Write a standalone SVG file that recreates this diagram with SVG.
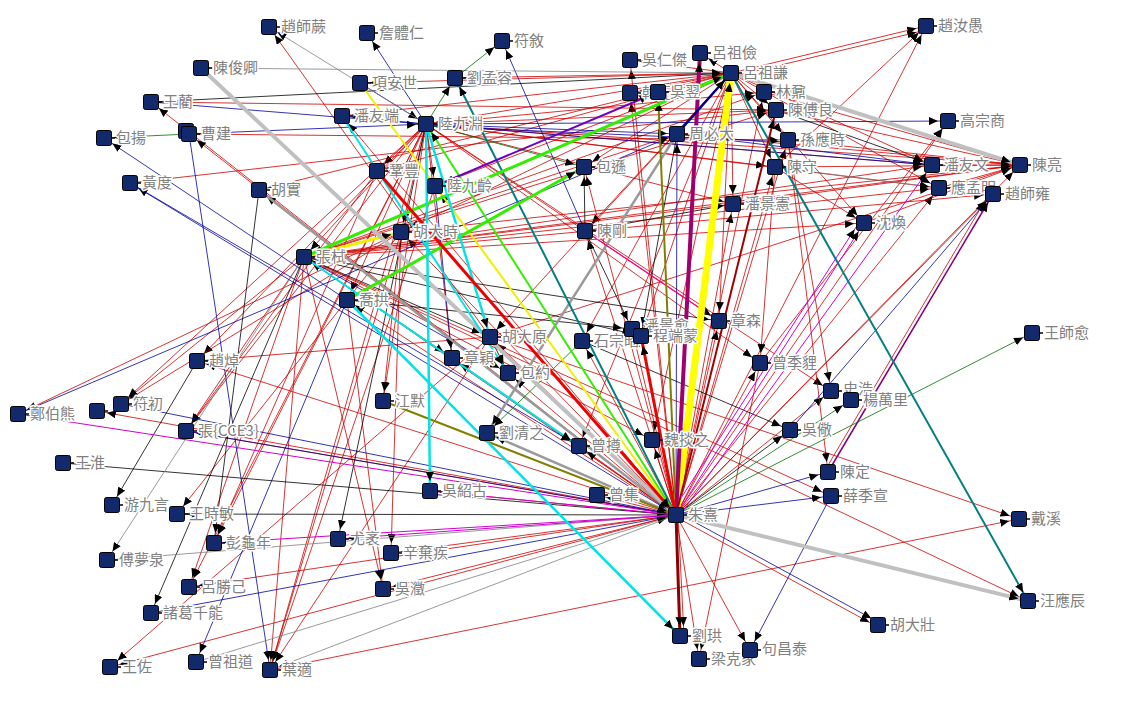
<svg xmlns="http://www.w3.org/2000/svg" width="1128" height="701" viewBox="0 0 1128 701">
<style>
.node rect{fill:#122a6b;stroke:#000;stroke-width:1}
.node path{stroke:#000;stroke-width:1.5;fill:none}
.node text{font-family:"Noto Sans CJK TC","Noto Sans CJK SC","Noto Sans CJK JP",sans-serif;font-size:15px;fill:#808080;stroke:#fff;stroke-width:3;stroke-linejoin:round;paint-order:stroke}
.b{stroke:#0000a0}
.k{stroke:#000}
.gy{stroke:#808080}
.gy2{stroke:#9a9a9a;stroke-width:2.5}
.gn{stroke:#007000}
.mg{stroke:#d000d0;stroke-width:1}
.cy{stroke:#00e4e4;stroke-width:2.5}
.yl{stroke:#ffff00;stroke-width:7}
.yt{stroke:#f0f000;stroke-width:2}
.lg{stroke:#c0c0c0;stroke-width:4}
.tl{stroke:#008080;stroke-width:2}
.lm{stroke:#33ee00;stroke-width:3}
.ol{stroke:#808000;stroke-width:2}
.pu{stroke:#7000c0;stroke-width:2}
.pp{stroke:#800080;stroke-width:1.5}
.rt{stroke:#ee0000;stroke-width:3}
.dr{stroke:#8b0000;stroke-width:3}
.dr2{stroke:#a00000;stroke-width:2}
.pk{stroke:#ff0080;stroke-width:1.2}
.nv{stroke:#000080;stroke-width:2.5}
.mp{stroke:#a0006e;stroke-width:4}
</style>
<defs>
<marker id="ar" markerUnits="userSpaceOnUse" markerWidth="10" markerHeight="8" refX="19" refY="4" orient="auto"><path d="M0,0L9,4L0,8z" fill="#000"/></marker>
</defs>
<rect width="1128" height="701" fill="#fff"/>
<g id="connectors" fill="none" stroke="#cc0000" stroke-width="0.8" marker-end="url(#ar)">
<path d="M676 515L151 102"/><path d="M676 515L189 134"/><path d="M676 515L259 190"/><path d="M676 515L342 116"/><path d="M676 515L435 186"/><path d="M676 515L401 232"/><path d="M676 515L630 60"/><path d="M676 515L630 93"/><path d="M676 515L764 92"/><path d="M676 515L788 140"/><path d="M676 515L584 167"/><path d="M676 515L775 167"/><path d="M676 515L733 204"/><path d="M676 515L585 231"/><path d="M676 515L926 26"/><path d="M676 515L948 121"/><path d="M676 515L1020 165"/><path d="M676 515L939 188"/><path d="M676 515L993 194"/><path d="M676 515L304 257"/><path d="M676 515L347 300"/><path d="M676 515L490 337"/><path d="M676 515L452 358"/><path d="M676 515L508 373"/><path d="M676 515L582 341"/><path d="M676 515L632 329"/><path d="M676 515L719 321"/><path d="M676 515L760 363"/><path d="M676 515L831 391"/><path d="M676 515L597 495"/><path d="M678 515L684 636"/><path d="M676 515L699 659"/><path d="M676 515L750 650"/><path d="M676 517L878 627"/><path d="M676 515L197 361"/><path d="M676 515L97 411"/><path d="M676 515L186 431"/><path d="M676 515L189 587"/><path d="M676 515L110 667"/><path d="M676 515L391 553"/><path d="M676 515L383 589"/><path d="M676 515L652 440"/><path d="M676 515L579 446"/><path d="M676 515L430 491"/>
<path d="M731 73L455 78"/><path d="M731 73L630 60"/><path d="M731 73L700 53"/><path d="M731 73L426 124"/><path d="M731 73L342 116"/><path d="M731 73L377 171"/><path d="M731 73L435 186"/><path d="M731 73L401 232"/><path d="M731 73L304 257"/><path d="M731 73L584 167"/><path d="M731 73L585 231"/><path d="M731 73L630 93"/><path d="M731 73L776 110"/><path d="M731 73L775 167"/><path d="M731 73L733 204"/><path d="M731 73L582 341"/><path d="M731 73L641 336"/><path d="M731 73L719 321"/><path d="M731 73L652 440"/><path d="M731 73L926 26"/><path d="M731 77L926 30"/><path d="M731 73L864 223"/><path d="M731 73L932 165"/><path d="M731 73L939 188"/><path d="M731 73L788 140"/><path d="M731 73L490 337"/><path d="M731 73L579 446"/><path d="M731 73L360 83"/><path d="M731 73L259 190"/>
<path d="M426 124L377 171"/><path d="M426 124L435 186"/><path d="M426 124L401 232"/><path d="M426 124L304 257"/><path d="M426 124L347 300"/><path d="M426 124L197 361"/><path d="M426 124L121 404"/><path d="M426 124L186 431"/><path d="M426 124L214 543"/><path d="M426 124L189 587"/><path d="M426 124L452 358"/><path d="M426 124L383 401"/><path d="M426 124L1020 165"/><path d="M426 124L932 165"/><path d="M426 124L939 188"/><path d="M426 124L764 92"/><path d="M426 124L776 110"/><path d="M426 124L775 167"/><path d="M426 124L733 204"/><path d="M426 124L719 321"/><path d="M426 124L270 670"/><path d="M426 124L831 391"/><path d="M426 124L760 363"/>
<path d="M304 257L1020 165"/><path d="M304 257L932 165"/><path d="M304 257L939 188"/><path d="M304 257L776 110"/><path d="M304 257L764 92"/><path d="M304 257L733 204"/><path d="M304 257L677 134"/><path d="M304 257L1028 601"/><path d="M304 257L189 587"/><path d="M304 257L186 431"/><path d="M304 257L121 404"/><path d="M304 257L270 670"/><path d="M304 257L383 589"/><path d="M304 257L652 440"/><path d="M304 257L864 223"/><path d="M304 257L831 496"/><path d="M304 257L993 194"/>
<path d="M776 110L1020 165"/><path d="M764 92L1020 165"/><path d="M788 140L1020 165"/><path d="M775 167L1020 165"/><path d="M932 165L1020 165"/><path d="M939 188L1020 165"/><path d="M677 134L1020 165"/><path d="M733 204L1020 165"/><path d="M401 232L1020 165"/><path d="M490 337L1020 165"/><path d="M864 223L1020 165"/>
<path d="M490 337L269 27"/><path d="M775 167L926 26"/><path d="M760 363L948 121"/><path d="M490 337L1019 519"/><path d="M270 670L1019 519"/><path d="M490 337L110 667"/><path d="M401 232L177 514"/><path d="M401 232L391 553"/><path d="M347 300L383 589"/><path d="M401 232L383 401"/><path d="M401 232L18 414"/><path d="M401 232L121 404"/><path d="M490 337L197 361"/><path d="M760 363L699 659"/><path d="M775 167L864 223"/><path d="M775 167L760 363"/><path d="M788 140L831 391"/><path d="M788 140L828 472"/><path d="M151 102L776 110"/><path d="M189 134L788 140"/><path d="M130 183L776 110"/><path d="M401 232L270 670"/><path d="M435 186L270 670"/><path d="M490 337L270 670"/><path d="M377 171L214 543"/><path d="M377 171L186 431"/><path d="M824 472L989 194"/><path d="M676 515L1028 601"/>
<path class="pp" d="M828 472L993 194"/>
<path class="b" d="M426 124L367 33"/><path class="b" d="M360 83L426 124"/><path class="b" d="M426 124L342 116"/><path class="b" d="M426 124L677 134"/><path class="b" d="M426 126L788 142"/><path class="b" d="M426 124L948 121"/><path class="b" d="M189 134L426 124"/><path class="b" d="M189 134L270 670"/><path class="b" d="M151 102L932 165"/><path class="b" d="M347 300L104 138"/><path class="b" d="M676 515L130 183"/><path class="b" d="M130 183L579 446"/><path class="b" d="M585 231L502 41"/><path class="b" d="M676 515L677 134"/><path class="b" d="M676 515L828 472"/><path class="b" d="M676 515L831 496"/><path class="b" d="M831 496L750 650"/><path class="b" d="M678 513L880 623"/><path class="b" d="M790 430L993 194"/><path class="b" d="M18 414L677 134"/><path class="b" d="M121 404L676 515"/><path class="b" d="M186 431L676 515"/><path class="b" d="M347 300L196 662"/><path class="b" d="M435 186L452 358"/><path class="b" d="M151 613L676 515"/><path class="b" d="M304 257L508 373"/><path class="b" d="M677 134L932 165"/>
<path class="k" d="M151 102L731 73"/><path class="k" d="M63 463L676 515"/><path class="k" d="M676 515L177 514"/><path class="k" d="M304 257L151 613"/><path class="k" d="M259 190L214 543"/><path class="k" d="M197 361L112 505"/><path class="k" d="M426 124L338 539"/><path class="k" d="M304 257L452 358"/><path class="k" d="M304 257L490 337"/><path class="k" d="M304 257L719 321"/><path class="k" d="M304 257L641 336"/><path class="k" d="M490 337L508 373"/><path class="k" d="M585 231L584 167"/><path class="k" d="M585 231L733 204"/><path class="k" d="M347 300L632 329"/><path class="k" d="M582 341L790 430"/><path class="k" d="M585 231L632 329"/><path class="k" d="M677 134L641 336"/><path class="k" d="M676 515L790 430"/><path class="k" d="M776 110L932 165"/>
<path class="gy" d="M201 68L731 73"/><path class="gy" d="M426 124L269 27"/><path class="gy" d="M304 257L107 560"/><path class="gy" d="M676 515L107 560"/><path class="gy" d="M196 662L676 515"/><path class="gy" d="M676 515L270 670"/><path class="gy" d="M775 167L939 188"/>
<path class="gy2" d="M259 190L676 515"/><path class="gy2" d="M677 134L487 433"/><path class="gy2" d="M676 515L487 433"/>
<path class="gn" d="M426 124L455 78"/><path class="gn" d="M455 78L502 41"/><path class="gn" d="M426 124L584 167"/><path class="gn" d="M676 515L1032 333"/><path class="gn" d="M676 515L851 400"/><path class="gn" d="M189 134L104 138"/><path class="gn" d="M582 341L487 433"/>
<path class="mg" d="M18 414L676 515"/><path class="mg" d="M676 515L864 223"/><path class="mg" d="M672 512L860 221"/><path class="mg" d="M680 515L932 165"/><path class="mg" d="M676 515L214 543"/><path class="mg" d="M676 515L338 539"/><path class="mg" d="M676 515L430 491"/>
<path class="pk" d="M585 231L719 321"/>
<path class="ol" d="M383 401L676 515"/><path class="ol" d="M676 515L658 92"/>
<path class="yt" d="M360 83L676 515"/><path class="yl" d="M676 515L731 73"/><path class="yt" style="stroke-width:3" d="M304 257L401 232"/>
<path class="mp" d="M676 515L700 53"/>
<path class="lg" d="M201 68L676 515"/><path class="lg" d="M731 73L1020 165"/><path class="lg" d="M676 515L1028 601"/>
<path class="tl" d="M731 73L1028 601"/><path class="tl" d="M676 515L455 78"/>
<path class="lm" d="M304 257L731 73"/><path class="lm" d="M347 300L584 167"/><path class="lm" style="stroke-width:2" d="M676 515L426 124"/>
<path class="pu" d="M435 186L658 92"/>
<path class="nv" d="M677 134L731 73"/>
<path class="cy" d="M426 124L430 491"/><path class="cy" d="M426 124L490 337"/><path class="cy" style="stroke-width:2" d="M304 257L579 446"/><path class="cy" d="M347 300L680 636"/><path class="cy" style="stroke-width:2" d="M342 116L508 373"/>
<path class="rt" d="M377 171L676 515"/><path class="rt" d="M676 515L641 336"/>
<path class="dr" d="M676 515L680 636"/><path class="dr2" d="M676 515L776 110"/>
</g>
<g id="nodes">
<g id="n01" class="node"><rect x="261.5" y="19.5" width="15" height="15" rx="2"/><path d="M277 27h3"/><text x="281" y="32">趙師蕨</text></g>
<g id="n02" class="node"><rect x="359.5" y="25.5" width="15" height="15" rx="2"/><path d="M375 33h3"/><text x="379" y="38">詹體仁</text></g>
<g id="n03" class="node"><rect x="494.5" y="33.5" width="15" height="15" rx="2"/><path d="M510 41h3"/><text x="514" y="46">符敘</text></g>
<g id="n04" class="node"><rect x="193.5" y="60.5" width="15" height="15" rx="2"/><path d="M209 68h3"/><text x="213" y="73">陳俊卿</text></g>
<g id="n05" class="node"><rect x="143.5" y="94.5" width="15" height="15" rx="2"/><path d="M159 102h3"/><text x="163" y="107">王藺</text></g>
<g id="n06" class="node"><rect x="96.5" y="130.5" width="15" height="15" rx="2"/><path d="M112 138h3"/><text x="116" y="143">包揚</text></g>
<g id="n07" class="node"><rect x="178.5" y="123.5" width="15" height="15" rx="2"/><rect x="181.5" y="126.5" width="15" height="15" rx="2"/><path d="M197 134h3"/><text x="201" y="139">曹建</text></g>
<g id="n08" class="node"><rect x="122.5" y="175.5" width="15" height="15" rx="2"/><path d="M138 183h3"/><text x="142" y="188">黃度</text></g>
<g id="n09" class="node"><rect x="251.5" y="182.5" width="15" height="15" rx="2"/><path d="M267 190h3"/><text x="271" y="195">胡實</text></g>
<g id="n10" class="node"><rect x="352.5" y="75.5" width="15" height="15" rx="2"/><path d="M368 83h3"/><text x="372" y="88">項安世</text></g>
<g id="n11" class="node"><rect x="447.5" y="70.5" width="15" height="15" rx="2"/><path d="M463 78h3"/><text x="467" y="83">劉孟容</text></g>
<g id="n12" class="node"><rect x="334.5" y="108.5" width="15" height="15" rx="2"/><path d="M350 116h3"/><text x="354" y="121">潘友端</text></g>
<g id="n13" class="node"><rect x="418.5" y="116.5" width="15" height="15" rx="2"/><path d="M434 124h3"/><text x="438" y="129">陸九淵</text></g>
<g id="n14" class="node"><rect x="369.5" y="163.5" width="15" height="15" rx="2"/><path d="M385 171h3"/><text x="389" y="176">鞏豐</text></g>
<g id="n15" class="node"><rect x="427.5" y="178.5" width="15" height="15" rx="2"/><path d="M443 186h3"/><text x="447" y="191">陸九齡</text></g>
<g id="n16" class="node"><rect x="393.5" y="224.5" width="15" height="15" rx="2"/><path d="M409 232h3"/><text x="413" y="237">胡大時</text></g>
<g id="n17" class="node"><rect x="622.5" y="52.5" width="15" height="15" rx="2"/><path d="M638 60h3"/><text x="642" y="65">吳仁傑</text></g>
<g id="n18" class="node"><rect x="692.5" y="45.5" width="15" height="15" rx="2"/><path d="M708 53h3"/><text x="712" y="58">呂祖儉</text></g>
<g id="n19" class="node"><rect x="723.5" y="65.5" width="15" height="15" rx="2"/><path d="M739 73h3"/><text x="743" y="78">呂祖謙</text></g>
<g id="n20" class="node"><rect x="622.5" y="85.5" width="15" height="15" rx="2"/><path d="M638 93h3"/><text x="642" y="98">韓元吉</text></g>
<g id="n21" class="node"><rect x="650.5" y="84.5" width="15" height="15" rx="2"/><path d="M666 92h3"/><text x="670" y="97">吳翌</text></g>
<g id="n22" class="node"><rect x="756.5" y="84.5" width="15" height="15" rx="2"/><path d="M772 92h3"/><text x="776" y="97">林鼐</text></g>
<g id="n23" class="node"><rect x="768.5" y="102.5" width="15" height="15" rx="2"/><path d="M784 110h3"/><text x="788" y="115">陳傅良</text></g>
<g id="n24" class="node"><rect x="669.5" y="126.5" width="15" height="15" rx="2"/><path d="M685 134h3"/><text x="689" y="139">周必大</text></g>
<g id="n25" class="node"><rect x="780.5" y="132.5" width="15" height="15" rx="2"/><path d="M796 140h3"/><text x="800" y="145">孫應時</text></g>
<g id="n26" class="node"><rect x="576.5" y="159.5" width="15" height="15" rx="2"/><path d="M592 167h3"/><text x="596" y="172">包遜</text></g>
<g id="n27" class="node"><rect x="767.5" y="159.5" width="15" height="15" rx="2"/><path d="M783 167h3"/><text x="787" y="172">陳守</text></g>
<g id="n28" class="node"><rect x="725.5" y="196.5" width="15" height="15" rx="2"/><path d="M741 204h3"/><text x="745" y="209">潘景憲</text></g>
<g id="n29" class="node"><rect x="577.5" y="223.5" width="15" height="15" rx="2"/><path d="M593 231h3"/><text x="597" y="236">陳剛</text></g>
<g id="n30" class="node"><rect x="918.5" y="18.5" width="15" height="15" rx="2"/><path d="M934 26h3"/><text x="938" y="31">趙汝愚</text></g>
<g id="n31" class="node"><rect x="940.5" y="113.5" width="15" height="15" rx="2"/><path d="M956 121h3"/><text x="960" y="126">高宗商</text></g>
<g id="n32" class="node"><rect x="924.5" y="157.5" width="15" height="15" rx="2"/><path d="M940 165h3"/><text x="944" y="170">潘友文</text></g>
<g id="n33" class="node"><rect x="1012.5" y="157.5" width="15" height="15" rx="2"/><path d="M1028 165h3"/><text x="1032" y="170">陳亮</text></g>
<g id="n34" class="node"><rect x="931.5" y="180.5" width="15" height="15" rx="2"/><path d="M947 188h3"/><text x="951" y="193">應孟明</text></g>
<g id="n35" class="node"><rect x="985.5" y="186.5" width="15" height="15" rx="2"/><path d="M1001 194h3"/><text x="1005" y="199">趙師雍</text></g>
<g id="n36" class="node"><rect x="856.5" y="215.5" width="15" height="15" rx="2"/><path d="M872 223h3"/><text x="876" y="228">沈煥</text></g>
<g id="n37" class="node"><rect x="296.5" y="249.5" width="15" height="15" rx="2"/><path d="M312 257h3"/><text x="316" y="262">張栻</text></g>
<g id="n38" class="node"><rect x="339.5" y="292.5" width="15" height="15" rx="2"/><path d="M355 300h3"/><text x="359" y="305">喬拱</text></g>
<g id="n39" class="node"><rect x="482.5" y="329.5" width="15" height="15" rx="2"/><path d="M498 337h3"/><text x="502" y="342">胡大原</text></g>
<g id="n40" class="node"><rect x="444.5" y="350.5" width="15" height="15" rx="2"/><path d="M460 358h3"/><text x="464" y="363">章穎</text></g>
<g id="n41" class="node"><rect x="500.5" y="365.5" width="15" height="15" rx="2"/><path d="M516 373h3"/><text x="520" y="378">包約</text></g>
<g id="n42" class="node"><rect x="375.5" y="393.5" width="15" height="15" rx="2"/><path d="M391 401h3"/><text x="395" y="406">江默</text></g>
<g id="n43" class="node"><rect x="479.5" y="425.5" width="15" height="15" rx="2"/><path d="M495 433h3"/><text x="499" y="438">劉清之</text></g>
<g id="n44" class="node"><rect x="574.5" y="333.5" width="15" height="15" rx="2"/><path d="M590 341h3"/><text x="594" y="346">石宗昭</text></g>
<g id="n45" class="node"><rect x="624.5" y="321.5" width="15" height="15" rx="2"/><path d="M640 329h3"/><text x="644" y="331">潘景愈</text></g>
<g id="n46" class="node"><rect x="633.5" y="328.5" width="15" height="15" rx="2"/><path d="M649 336h3"/><text x="653" y="341">程端蒙</text></g>
<g id="n47" class="node"><rect x="711.5" y="313.5" width="15" height="15" rx="2"/><path d="M727 321h3"/><text x="731" y="326">章森</text></g>
<g id="n48" class="node"><rect x="752.5" y="355.5" width="15" height="15" rx="2"/><path d="M768 363h3"/><text x="772" y="368">曾季貍</text></g>
<g id="n49" class="node"><rect x="782.5" y="422.5" width="15" height="15" rx="2"/><path d="M798 430h3"/><text x="802" y="435">吳儆</text></g>
<g id="n50" class="node"><rect x="644.5" y="432.5" width="15" height="15" rx="2"/><path d="M660 440h3"/><text x="664" y="445">魏掞之</text></g>
<g id="n51" class="node"><rect x="571.5" y="438.5" width="15" height="15" rx="2"/><path d="M587 446h3"/><text x="591" y="451">曾撙</text></g>
<g id="n52" class="node"><rect x="823.5" y="383.5" width="15" height="15" rx="2"/><path d="M839 391h3"/><text x="843" y="394">史浩</text></g>
<g id="n53" class="node"><rect x="843.5" y="392.5" width="15" height="15" rx="2"/><path d="M859 400h3"/><text x="863" y="405">楊萬里</text></g>
<g id="n54" class="node"><rect x="1024.5" y="325.5" width="15" height="15" rx="2"/><path d="M1040 333h3"/><text x="1044" y="338">王師愈</text></g>
<g id="n55" class="node"><rect x="820.5" y="464.5" width="15" height="15" rx="2"/><path d="M836 472h3"/><text x="840" y="477">陳定</text></g>
<g id="n56" class="node"><rect x="823.5" y="488.5" width="15" height="15" rx="2"/><path d="M839 496h3"/><text x="843" y="501">薛季宣</text></g>
<g id="n57" class="node"><rect x="668.5" y="507.5" width="15" height="15" rx="2"/><path d="M684 515h3"/><text x="688" y="520">朱熹</text></g>
<g id="n58" class="node"><rect x="589.5" y="487.5" width="15" height="15" rx="2"/><path d="M605 495h3"/><text x="609" y="500">曾集</text></g>
<g id="n59" class="node"><rect x="672.5" y="628.5" width="15" height="15" rx="2"/><path d="M688 636h3"/><text x="692" y="641">劉珙</text></g>
<g id="n60" class="node"><rect x="691.5" y="651.5" width="15" height="15" rx="2"/><path d="M707 659h3"/><text x="711" y="664">梁克家</text></g>
<g id="n61" class="node"><rect x="742.5" y="642.5" width="15" height="15" rx="2"/><path d="M758 650h3"/><text x="762" y="654">句昌泰</text></g>
<g id="n62" class="node"><rect x="870.5" y="617.5" width="15" height="15" rx="2"/><path d="M886 625h3"/><text x="890" y="630">胡大壯</text></g>
<g id="n63" class="node"><rect x="1020.5" y="593.5" width="15" height="15" rx="2"/><path d="M1036 601h3"/><text x="1040" y="606">汪應辰</text></g>
<g id="n64" class="node"><rect x="1011.5" y="511.5" width="15" height="15" rx="2"/><path d="M1027 519h3"/><text x="1031" y="524">戴溪</text></g>
<g id="n65" class="node"><rect x="189.5" y="353.5" width="15" height="15" rx="2"/><path d="M205 361h3"/><text x="209" y="366">趙焯</text></g>
<g id="n66" class="node"><rect x="10.5" y="406.5" width="15" height="15" rx="2"/><path d="M26 414h3"/><text x="30" y="419">鄭伯熊</text></g>
<g id="n67" class="node"><rect x="89.5" y="403.5" width="15" height="15" rx="2"/><path d="M105 411h3"/></g>
<g id="n68" class="node"><rect x="113.5" y="396.5" width="15" height="15" rx="2"/><path d="M129 404h3"/><text x="133" y="409">符初</text></g>
<g id="n69" class="node"><rect x="178.5" y="423.5" width="15" height="15" rx="2"/><path d="M194 431h3"/><text x="198" y="436">張{CCE3}</text></g>
<g id="n70" class="node"><rect x="55.5" y="455.5" width="15" height="15" rx="2"/><path d="M71 463h3"/><text x="75" y="468">王淮</text></g>
<g id="n71" class="node"><rect x="104.5" y="497.5" width="15" height="15" rx="2"/><path d="M120 505h3"/><text x="124" y="510">游九言</text></g>
<g id="n72" class="node"><rect x="169.5" y="506.5" width="15" height="15" rx="2"/><path d="M185 514h3"/><text x="189" y="519">王時敏</text></g>
<g id="n73" class="node"><rect x="206.5" y="535.5" width="15" height="15" rx="2"/><path d="M222 543h3"/><text x="226" y="548">彭龜年</text></g>
<g id="n74" class="node"><rect x="99.5" y="552.5" width="15" height="15" rx="2"/><path d="M115 560h3"/><text x="119" y="565">傅夢泉</text></g>
<g id="n75" class="node"><rect x="181.5" y="579.5" width="15" height="15" rx="2"/><path d="M197 587h3"/><text x="201" y="592">呂勝己</text></g>
<g id="n76" class="node"><rect x="143.5" y="605.5" width="15" height="15" rx="2"/><path d="M159 613h3"/><text x="163" y="618">諸葛千能</text></g>
<g id="n77" class="node"><rect x="102.5" y="659.5" width="15" height="15" rx="2"/><path d="M118 667h3"/><text x="122" y="672">王佐</text></g>
<g id="n78" class="node"><rect x="188.5" y="654.5" width="15" height="15" rx="2"/><path d="M204 662h3"/><text x="208" y="667">曾祖道</text></g>
<g id="n79" class="node"><rect x="262.5" y="662.5" width="15" height="15" rx="2"/><path d="M278 670h3"/><text x="282" y="675">葉適</text></g>
<g id="n80" class="node"><rect x="422.5" y="483.5" width="15" height="15" rx="2"/><path d="M438 491h3"/><text x="442" y="496">吳紹古</text></g>
<g id="n81" class="node"><rect x="330.5" y="531.5" width="15" height="15" rx="2"/><path d="M346 539h3"/><text x="350" y="544">尤袤</text></g>
<g id="n82" class="node"><rect x="383.5" y="545.5" width="15" height="15" rx="2"/><path d="M399 553h3"/><text x="403" y="558">辛棄疾</text></g>
<g id="n83" class="node"><rect x="375.5" y="581.5" width="15" height="15" rx="2"/><path d="M391 589h3"/><text x="395" y="594">吳瀓</text></g>
</g>
</svg>
